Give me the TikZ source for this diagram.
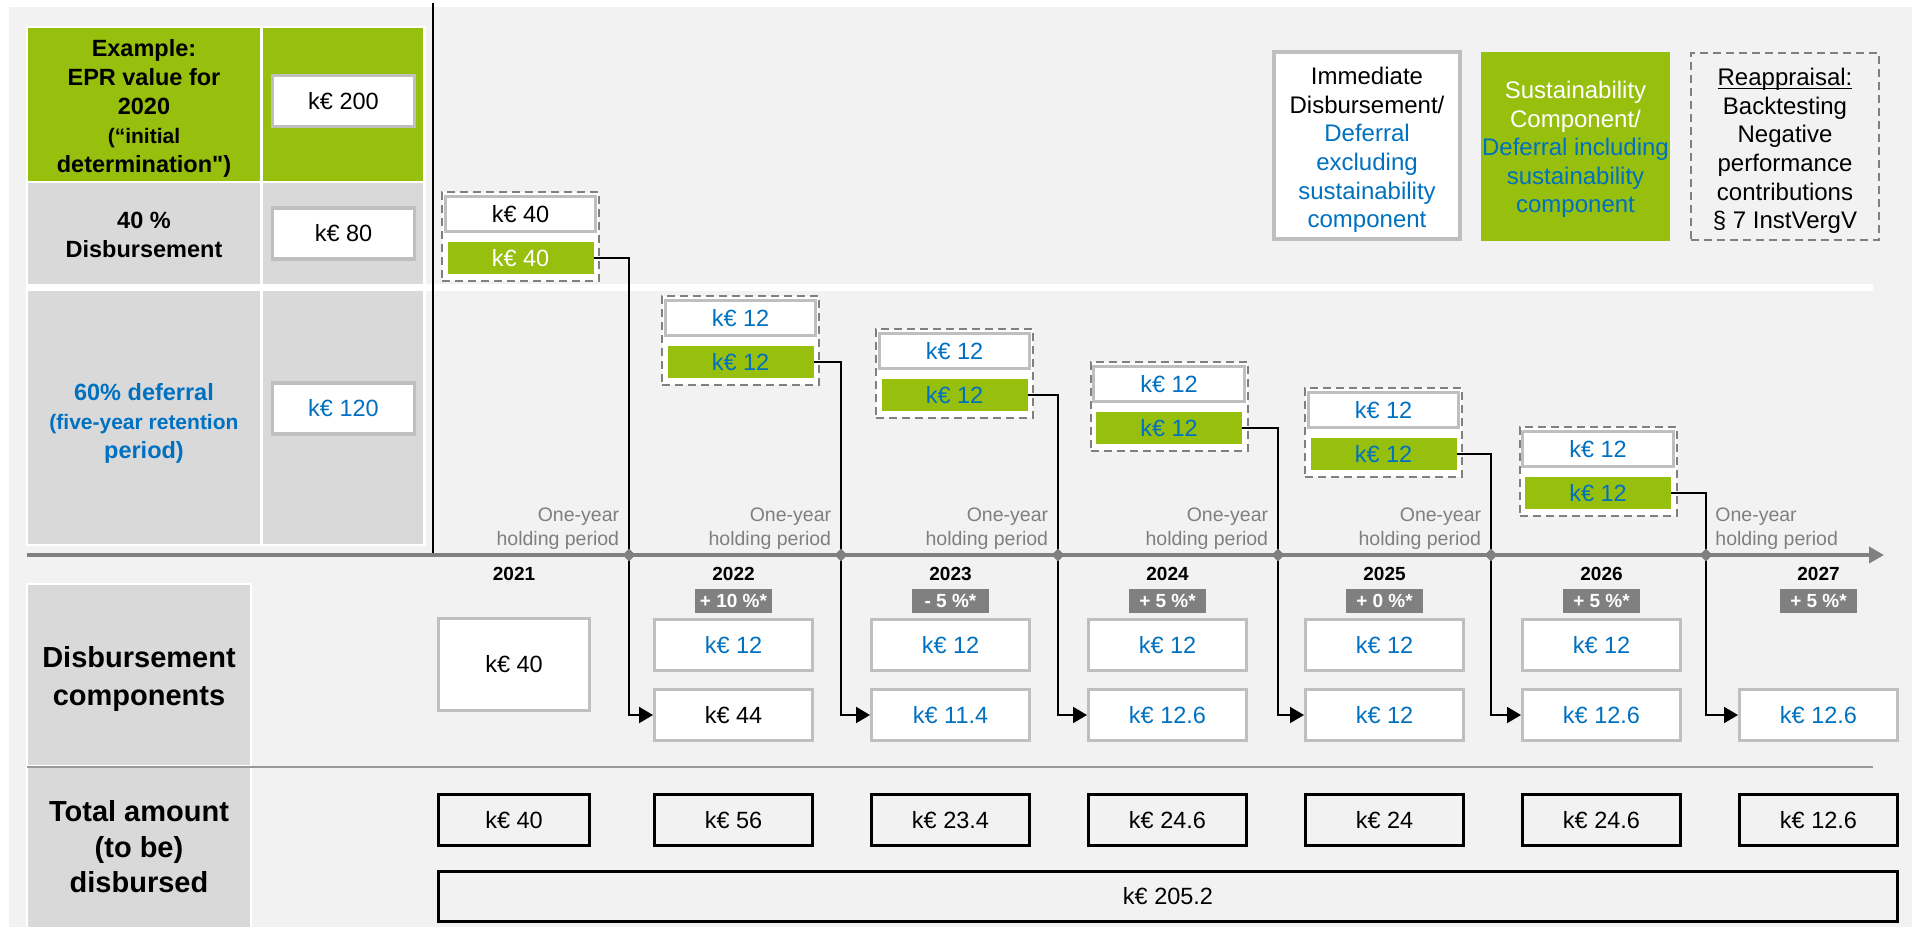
\documentclass[tikz,border=0pt]{standalone}
\usepackage{fontspec}
\newfontfamily\af{Liberation Sans}
\usetikzlibrary{shapes.geometric,arrows.meta}
\definecolor{bg}{HTML}{F2F2F2}
\definecolor{cellgray}{HTML}{D9D9D9}
\definecolor{epgreen}{HTML}{97BF0D}
\definecolor{epblue}{HTML}{0070C0}
\definecolor{boxgray}{HTML}{BFBFBF}
\definecolor{midgray}{HTML}{808080}
\definecolor{holdgray}{HTML}{7F7F7F}
\definecolor{sepgray}{HTML}{999999}
\newcommand\fsz[2]{\fontsize{#1}{#2}\selectfont}
\newcommand\bltxt[1]{\textcolor{epblue}{#1}}
\newcommand\myul[1]{\underline{\smash{#1}}\vphantom{#1}}
\begin{document}
\af
\begin{tikzpicture}[x=0.5pt,y=-0.5pt,
  fsv/.style={font=\fsz{11.75}{14}},
  wbox/.style={fsv, draw=boxgray, line width=1.65pt, fill=white, inner sep=0pt},
  gbox/.style={fsv, fill=epgreen, inner sep=0pt, minimum width=73pt, minimum height=16pt},
  grpbox/.style={draw=midgray, line width=1pt, dash pattern=on 4pt off 2.5pt, fill=white, inner sep=0pt, minimum width=78.5pt, minimum height=44.5pt},
  gwbox/.style={wbox, minimum width=75.3pt, minimum height=17.4pt},
  cbox/.style={wbox, minimum width=78.85pt, minimum height=25.35pt},
  tbox/.style={fsv, draw=black, line width=1.5pt, inner sep=0pt, minimum width=79pt, minimum height=25.5pt},
  lbox/.style={wbox, minimum width=71pt, minimum height=25.5pt},
  yearlbl/.style={font=\bfseries\fsz{9.5}{11}, inner sep=0pt, anchor=base},
  badge/.style={fill=midgray, text=white, font=\bfseries\fsz{9.5}{11}, inner sep=0pt, minimum width=38.5pt, minimum height=12pt},
  holdl/.style={text=holdgray, font=\fsz{9.75}{12}, inner sep=0pt, align=right, anchor=south east},
  holdr/.style={text=holdgray, font=\fsz{9.75}{12}, inner sep=0pt, align=left, anchor=south west},
  conn/.style={line width=1pt, -{Triangle[length=7pt,width=8pt]}},
  tline/.style={midgray, line width=2.25pt, -{Triangle[length=7.5pt,width=8pt]}},
  tlmark/.style={diamond, fill=midgray, inner sep=0pt, minimum width=6.5pt, minimum height=6.5pt},
  bluetxt/.style={text=epblue},
  hd/.style={font=\bfseries\fsz{11.75}{14.5}, align=center, inner sep=0pt},
  bighd/.style={font=\bfseries\fsz{14.5}{19}, align=center, inner sep=0pt},
  leg/.style={font=\fsz{12}{14.3}, align=center, inner sep=0pt},
]
\useasboundingbox (0,0) rectangle (1912,927);
\fill[white] (0,0) rectangle (1912,927);
\fill[bg] (9,7) rectangle (1912,927);

% left table
\fill[white] (26,26) rectangle (426,546);
\fill[white] (26,284) rectangle (1873,291);
\fill[epgreen] (28,28) rectangle (260,181);
\fill[epgreen] (263,28) rectangle (423,181);
\fill[cellgray] (28,183) rectangle (260,284);
\fill[cellgray] (263,183) rectangle (423,284);
\fill[cellgray] (28,291) rectangle (260,544);
\fill[cellgray] (263,291) rectangle (423,544);
\node[hd] (exa) at (144,108) {Example:\\EPR value for\\2020\\\fsz{10.5}{13.5}(“initial\\determination")};
\node[hd] (dis40) at (144,235) {40 \%\\Disbursement};
\node[hd, text=epblue] (def60) at (144,423) {60\% deferral\\\fsz{10.5}{13.75}(five-year retention\\period)};
\node[lbox] (v200) at (343.5,101) {k€ 200};
\node[lbox] (v80) at (343.5,233.5) {k€ 80};
\node[lbox, bluetxt] (v120) at (343.5,408.5) {k€ 120};

\draw[line width=1pt] (433,3) -- (433,555);

% legend
\node[wbox, line width=1.8pt, minimum width=93pt, minimum height=93.5pt] (leg1) at (1367,145.5) {};
\node[leg] (leg1t) at (1367,150) {Immediate\\Disbursement/\\\bltxt{Deferral}\\\bltxt{excluding}\\\bltxt{sustainability}\\\bltxt{component}};
\node[fill=epgreen, inner sep=0pt, minimum width=94.5pt, minimum height=94.5pt] (leg2) at (1575.5,146.5) {};
\node[leg, text=white] (leg2t) at (1575.5,149.5) {Sustainability\\Component/\\\bltxt{Deferral including}\\\bltxt{sustainability}\\\bltxt{component}};
\node[draw=midgray, line width=1pt, dash pattern=on 4pt off 2.5pt, inner sep=0pt, minimum width=94pt, minimum height=93.5pt] (leg3) at (1785,146.5) {};
\node[leg] (leg3t) at (1785,151) {\myul{Reappraisal:}\\Backtesting\\Negative\\performance\\contributions\\§ 7 InstVergV};

% deferral groups
\node[grpbox] (grp1) at (520.5,236.5) {};
\node[gwbox] (w1) at (520.5,214) {k€ 40};
\node[gbox, text=white] (gr1) at (520.5,258) {k€ 40};
\foreach \i/\cx/\t in {2/740.5/295,3/954.5/328,4/1169/361,5/1383.5/387,6/1598/426}{
  \node[grpbox] (grp\i) at (\cx,\t+45.5) {};
  \node[gwbox, bluetxt] (w\i) at (\cx,\t+23) {k€ 12};
  \node[gbox, bluetxt] (gr\i) at (\cx,\t+67) {k€ 12};
}

% years and badges
\node[yearlbl] (y1) at (514,580) {2021};
\foreach \i/\cx/\yr/\pc in {2/733.5/2022/{+ 10 \%*},3/950.5/2023/{- 5 \%*},4/1167.5/2024/{+ 5 \%*},5/1384.5/2025/{+ 0 \%*},6/1601.5/2026/{+ 5 \%*},7/1818.5/2027/{+ 5 \%*}}{
  \node[yearlbl] (y\i) at (\cx,580) {\yr};
  \node[badge] (bd\i) at (\cx,601) {\pc};
}

% holding period labels
\foreach \i/\kx in {1/629,2/841,3/1058,4/1278,5/1491}
  \node[holdl] (h\i) at (\kx-9.5,550) {One-year\\holding period};
\node[holdr] (h6) at (1715,550) {One-year\\holding period};

% disbursement components
\node[wbox, minimum width=75.35pt, minimum height=45.85pt] (b1) at (514,664.5) {k€ 40};
\foreach \i/\cx in {2/733.5,3/950.5,4/1167.5,5/1384.5,6/1601.5}
  \node[cbox, bluetxt] (top\i) at (\cx,645) {k€ 12};
\node[cbox] (low2) at (733.5,715) {k€ 44};
\node[cbox, bluetxt] (low3) at (950.5,715) {k€ 11.4};
\node[cbox, bluetxt] (low4) at (1167.5,715) {k€ 12.6};
\node[cbox, bluetxt] (low5) at (1384.5,715) {k€ 12};
\node[cbox, bluetxt] (low6) at (1601.5,715) {k€ 12.6};
\node[cbox, bluetxt] (low7) at (1818.5,715) {k€ 12.6};

% timeline
\coordinate (t0) at (27,555);
\coordinate (t1) at (1884,555);
\draw[tline] (t0) -- (t1);
\foreach \i/\kx in {1/629,2/841,3/1058,4/1278,5/1491,6/1706}
  \coordinate (k\i) at (\kx,555);

% connectors
\draw[conn] (gr1.east) -| (k1) |- (low2.west);
\draw[conn] (gr2.east) -| (k2) |- (low3.west);
\draw[conn] (gr3.east) -| (k3) |- (low4.west);
\draw[conn] (gr4.east) -| (k4) |- (low5.west);
\draw[conn] (gr5.east) -| (k5) |- (low6.west);
\draw[conn] (gr6.east) -| (k6) |- (low7.west);
\foreach \i in {1,...,6}
  \node[tlmark] (dm\i) at (k\i) {};

% bottom left
\fill[white] (26,583) rectangle (252,927);
\fill[cellgray] (28,585) rectangle (250,765);
\fill[cellgray] (28,768) rectangle (250,927);
\draw[sepgray, line width=1pt] (27,766.5) -- (1873,766.5);
\node[bighd] (dcomp) at (139,679) {Disbursement\\components};
\node[bighd, font=\bfseries\fsz{14.5}{17.75}] (tamt) at (139,847) {Total amount\\(to be)\\disbursed};

% totals
\node[tbox, minimum width=75.5pt] (tot1) at (514,820) {k€ 40};
\foreach \i/\cx/\v in {2/733.5/56,3/950.5/23.4,4/1167.5/24.6,5/1384.5/24,6/1601.5/24.6,7/1818.5/12.6}
  \node[tbox] (tot\i) at (\cx,820) {k€ \v};
\node[tbox, minimum width=729.5pt, minimum height=25pt] (totall) at (1168,896.5) {k€ 205.2};
\end{tikzpicture}
\end{document}
